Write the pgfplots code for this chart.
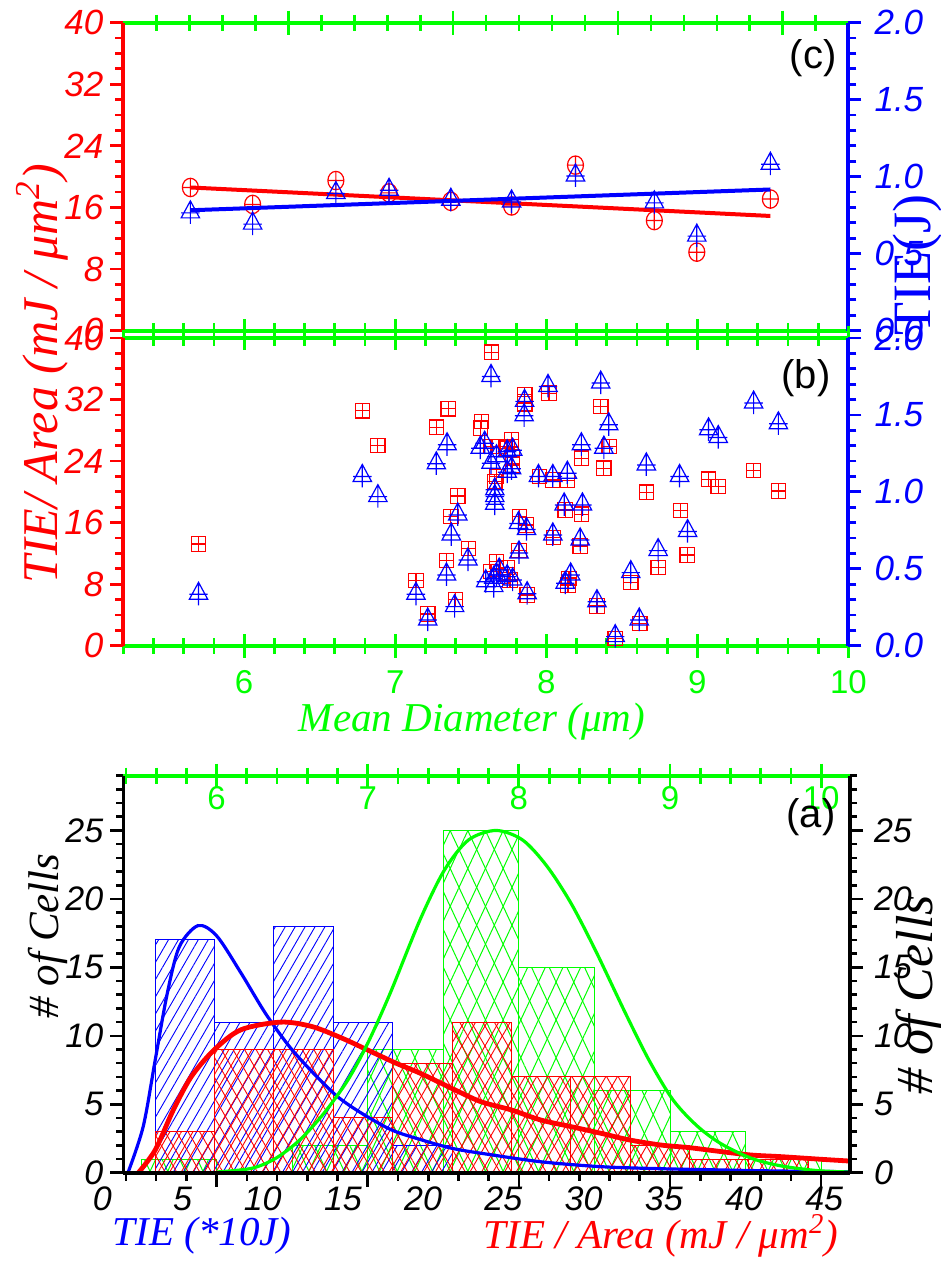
\documentclass[border=0pt]{standalone}
\usepackage{fontspec}
\setmainfont{Liberation Serif}
\newfontfamily\arial{Liberation Sans}
\usepackage{pgfplots}
\pgfplotsset{compat=1.18}
\usetikzlibrary{patterns.meta}

\definecolor{rd}{RGB}{255,0,0}
\definecolor{bl}{RGB}{0,0,255}
\definecolor{gr}{RGB}{0,255,0}

\newcommand\numfont{\arial\itshape\fontsize{17.5}{17.5}\selectfont}
\newcommand\numfontA{\arial\itshape\fontsize{17}{17}\selectfont}
\newcommand\upfont{\arial\fontsize{16.5}{16.5}\selectfont}
\newcommand\ttlfont{\itshape\fontsize{20.5}{21}\selectfont}

% square with a plus inside
\pgfdeclareplotmark{sqplus}{%
  \pgfpathrectangle{\pgfpoint{-3.6pt}{-3.6pt}}{\pgfpoint{7.2pt}{7.2pt}}%
  \pgfpathmoveto{\pgfpoint{-3.6pt}{0pt}}\pgfpathlineto{\pgfpoint{3.6pt}{0pt}}%
  \pgfpathmoveto{\pgfpoint{0pt}{-3.6pt}}\pgfpathlineto{\pgfpoint{0pt}{3.6pt}}%
  \pgfusepathqstroke}
% triangle with a plus through it
\pgfdeclareplotmark{triplus}{%
  \pgfpathmoveto{\pgfpoint{0pt}{6pt}}\pgfpathlineto{\pgfpoint{4.6pt}{-2.5pt}}%
  \pgfpathlineto{\pgfpoint{-4.6pt}{-2.5pt}}\pgfpathclose
  \pgfpathmoveto{\pgfpoint{-4.6pt}{0pt}}\pgfpathlineto{\pgfpoint{4.6pt}{0pt}}%
  \pgfpathmoveto{\pgfpoint{0pt}{6pt}}\pgfpathlineto{\pgfpoint{0pt}{-5.5pt}}%
  \pgfusepathqstroke}
% ellipse with a plus inside
\pgfdeclareplotmark{oplusE}{%
  \pgfpathellipse{\pgfpointorigin}{\pgfpoint{4pt}{0pt}}{\pgfpoint{0pt}{4.6pt}}%
  \pgfpathmoveto{\pgfpoint{-4pt}{0pt}}\pgfpathlineto{\pgfpoint{4pt}{0pt}}%
  \pgfpathmoveto{\pgfpoint{0pt}{-4.6pt}}\pgfpathlineto{\pgfpoint{0pt}{4.6pt}}%
  \pgfusepathqstroke}

\pgfplotsset{
  pan/.style={scale only axis, anchor=south west},
  pc/.style={pan, at={(61.65pt,467.65pt)}, width=362.6pt, height=154pt, xmin=5.2, xmax=10, clip=false},
  pb/.style={pan, at={(61.65pt,310.15pt)}, width=362.6pt, height=153.85pt, xmin=5.2, xmax=10, clip=false},
  pa/.style={pan, at={(61.65pt,46.65pt)}, width=363.35pt, height=198.5pt, xmin=5.3825, xmax=10.191, ymin=0, ymax=29},
  ptie/.style={pan, at={(51.15pt,46.65pt)}, width=373.85pt, height=198.5pt, xmin=0, xmax=46.61, ymin=0, ymax=29},
  redleft/.style={hide x axis, axis y line*=left, ymin=0, ymax=40,
    ytick={0,8,16,24,32,40}, yticklabels={0,8,16,24,32,40}, minor ytick={0,2,...,40},
    tick align=outside, major tick length=6.5pt, minor tick length=4pt,
    y axis line style={rd, line width=2pt}, ytick style={rd, line width=1.4pt},
    yticklabel style={rd, font=\numfont}},
  blueright/.style={hide x axis, axis y line*=right, ymin=0, ymax=2,
    ytick={0,0.5,1,1.5,2}, yticklabels={0.0,0.5,1.0,1.5,2.0}, minor ytick={0,0.1,...,2.0},
    tick align=outside, major tick length=6.5pt, minor tick length=4pt,
    y axis line style={bl, line width=2pt}, ytick style={bl, line width=1.4pt},
    yticklabel style={bl, font=\numfont, xshift=3pt}},
  greenx/.style={hide y axis, tick align=center, major tick length=12pt, minor tick length=8pt,
    x axis line style={gr, line width=2pt}, xtick style={gr, line width=1.4pt}},
  blackx/.style={tick align=outside, major tick length=6.5pt, minor tick length=3.5pt,
    axis line style={black, line width=1.8pt}, tick style={black, line width=1.3pt}},
}

\begin{document}
\begin{tikzpicture}
\useasboundingbox (0,0) rectangle (470.5pt,633pt);

% ---------------- panel (c): binned means with linear fits ----------------
\begin{axis}[pc, greenx, ymin=0, ymax=1, axis x line*=bottom,
  xtick={6,...,10}, xticklabels={}, minor xtick={5.2,5.4,...,10}]
\end{axis}
\begin{axis}[pc, greenx, ymin=0, ymax=1, axis x line*=top, xmin=5, xmax=9.398,
  xtick={6,...,9}, xticklabels={}, minor xtick={5.2,5.4,...,9.4}]
\end{axis}
\begin{axis}[pc, redleft]
  \addplot[rd, line width=2pt] coordinates {(5.644,18.6) (9.483,14.9)};
  \addplot[rd, only marks, mark=oplusE, mark options={line width=0.6pt}] coordinates {
    (5.644,18.6) (6.056,16.4) (6.607,19.5) (6.959,17.9) (7.368,16.8)
    (7.770,16.2) (8.193,21.5) (8.715,14.3) (8.996,10.2) (9.483,17.1)};
\end{axis}
\begin{axis}[pc, blueright]
  \addplot[bl, line width=2pt] coordinates {(5.644,0.782) (9.483,0.917)};
  \addplot[bl, only marks, mark=triplus, mark options={line width=0.6pt}] coordinates {
    (5.644,0.765) (6.056,0.692) (6.607,0.891) (6.959,0.912) (7.368,0.847)
    (7.770,0.836) (8.193,1.005) (8.715,0.830) (8.996,0.614) (9.483,1.081)};
\end{axis}

% ---------------- panel (b): individual cells ----------------
\begin{axis}[pb, greenx, ymin=0, ymax=1, axis x line*=bottom,
  xtick={6,...,10}, xticklabels={6,7,8,9,10}, minor xtick={5.2,5.4,...,10},
  xticklabel style={gr, font=\upfont, yshift=-3pt}]
\end{axis}
\begin{axis}[pb, greenx, ymin=0, ymax=1, axis x line*=top,
  xtick={6,...,10}, xticklabels={}, minor xtick={5.2,5.4,...,10}]
\end{axis}
\begin{axis}[pb, redleft]
  \addplot[rd, only marks, mark=sqplus, mark options={line width=0.6pt}] coordinates {
    (5.698,13.23) (6.782,30.53) (6.885,26.02) (7.137,8.46) (7.215,4.12)
    (7.272,28.40) (7.350,30.79) (7.339,11.06) (7.368,16.78) (7.414,19.47)
    (7.400,6.03) (7.485,12.66) (7.570,29.14) (7.563,28.27) (7.638,38.16)
    (7.634,25.89) (7.688,25.89) (7.770,26.76) (7.741,25.67) (7.777,24.59)
    (7.777,23.50) (7.670,21.99) (7.659,21.34) (7.858,32.61) (7.858,31.44)
    (7.823,16.78) (7.866,15.70) (7.819,12.36) (7.873,6.59) (7.670,10.93)
    (7.634,9.63) (7.698,8.98) (7.741,10.19) (7.759,8.54) (7.954,21.99)
    (8.018,32.83) (8.043,21.55) (8.047,14.05) (8.139,21.47) (8.143,7.89)
    (8.125,17.65) (8.232,24.37) (8.232,17.09) (8.224,12.97) (8.360,31.09)
    (8.381,23.07) (8.416,25.89) (8.335,5.16) (8.456,0.95) (8.559,8.24)
    (8.619,2.91) (8.662,19.95) (8.740,10.19) (8.889,17.56) (8.932,11.80)
    (9.074,21.64) (9.138,20.69) (9.372,22.77) (9.536,20.12) (8.150,8.76)};
\end{axis}
\begin{axis}[pb, blueright]
  \addplot[bl, only marks, mark=triplus, mark options={line width=0.6pt}] coordinates {
    (5.698,0.334) (6.782,1.100) (6.885,0.969) (7.137,0.334) (7.215,0.167)
    (7.272,1.182) (7.343,1.306) (7.339,0.460) (7.371,0.720) (7.414,0.850)
    (7.393,0.254) (7.481,0.557) (7.563,1.284) (7.592,1.316) (7.634,1.750)
    (7.634,1.186) (7.670,1.228) (7.659,1.013) (7.659,0.969) (7.659,0.920)
    (7.741,1.260) (7.777,1.271) (7.741,1.128) (7.770,1.150) (7.856,1.588)
    (7.853,1.494) (7.816,0.794) (7.869,0.755) (7.819,0.603) (7.873,0.338)
    (7.599,0.416) (7.652,0.438) (7.688,0.492) (7.741,0.449) (7.777,0.427)
    (7.652,0.384) (7.670,0.460) (7.948,1.100) (8.011,1.685) (8.043,1.100)
    (8.043,0.720) (8.139,1.121) (8.118,0.915) (8.161,0.460) (8.125,0.406)
    (8.232,1.306) (8.239,0.915) (8.224,0.687) (8.360,1.707) (8.413,1.436)
    (8.381,1.284) (8.335,0.286) (8.456,0.059) (8.559,0.475) (8.615,0.167)
    (8.662,1.175) (8.740,0.618) (8.882,1.100) (8.935,0.742) (9.074,1.403)
    (9.138,1.353) (9.372,1.577) (9.536,1.442)};
\end{axis}

% ---------------- panel (a): histograms ----------------
% diameter histogram, top green axis
\begin{axis}[pa, greenx, axis x line*=top,
  xtick={6,...,10}, xticklabels={6,7,8,9,10}, minor xtick={5.4,5.6,...,10.2},
  xticklabel style={gr, font=\upfont, anchor=north, yshift=-8pt}]
  \addplot[ybar interval, draw=gr, line width=0.5pt,
    pattern={Lines[angle=65,distance=8pt,line width=0.5pt]}, pattern color=gr] coordinates {
    (5.5,1) (6.0,0) (6.5,2) (7.0,9) (7.5,25) (8.0,15) (8.5,6) (9.0,3) (9.5,1) (10.0,0)};
  \addplot[ybar interval, draw=gr, line width=0.5pt,
    pattern={Lines[angle=-65,distance=8pt,line width=0.5pt]}, pattern color=gr] coordinates {
    (5.5,1) (6.0,0) (6.5,2) (7.0,9) (7.5,25) (8.0,15) (8.5,6) (9.0,3) (9.5,1) (10.0,0)};
\end{axis}
% TIE and TIE/Area histograms with their fitted curves
\begin{axis}[ptie, hide y axis, axis x line*=bottom, axis line style={draw=none},
  xtick={0,5,...,45}, xticklabels={0,5,10,15,20,25,30,35,40,45},
  major tick length=0pt, xtick style={draw=none},
  xticklabel style={font=\numfontA, anchor=north, yshift=-3.5pt}]
  \addplot[ybar interval, draw=bl, line width=0.5pt,
    pattern={Lines[angle=60,distance=4.3pt,line width=0.45pt]}, pattern color=bl] coordinates {
    (3.3,17) (7.0,11) (10.7,18) (14.4,11) (18.1,2) (21.8,0)};
  \addplot[ybar interval, draw=rd, line width=0.5pt,
    pattern={Lines[angle=60,distance=5pt,line width=0.45pt]}, pattern color=rd] coordinates {
    (3.3,3) (7.0,9) (10.7,9) (14.4,4) (18.1,8) (21.8,11) (25.5,7) (29.2,7) (32.9,2) (36.6,1) (40.3,1) (44.0,0)};
  \addplot[ybar interval, draw=rd, line width=0.5pt,
    pattern={Lines[angle=-60,distance=5pt,line width=0.45pt]}, pattern color=rd] coordinates {
    (3.3,3) (7.0,9) (10.7,9) (14.4,4) (18.1,8) (21.8,11) (25.5,7) (29.2,7) (32.9,2) (36.6,1) (40.3,1) (44.0,0)};
  \addplot[bl, line width=1.6pt, smooth] coordinates {
    (1.6,0) (2.55,3.37) (3.30,8.24) (4.05,13.1) (4.80,16.5) (5.97,18.05) (7.13,17.3)
    (8.64,14.6) (10.16,11.66) (11.66,9.22) (13.16,7.27) (14.66,5.56) (16.17,4.34)
    (18.04,3.12) (19.92,2.39) (21.80,1.78) (23.67,1.41) (27.33,0.80) (31.08,0.44)
    (34.83,0.29) (38.58,0.20) (42.34,0.12) (46.6,0.07)};
  \addplot[rd, line width=2.4pt, smooth] coordinates {
    (2.25,0) (3.30,1.66) (4.43,4.59) (5.55,7.02) (6.98,8.98) (8.64,10.44) (11.12,11.0)
    (13.06,10.68) (14.94,9.83) (16.51,8.98) (18.31,8.0) (19.81,7.27) (21.77,6.17)
    (23.57,5.2) (25.48,4.59) (27.33,3.85) (29.2,3.37) (31.08,2.88) (32.87,2.39)
    (34.83,2.02) (36.59,1.83) (38.58,1.54) (40.46,1.29) (42.34,1.17) (44.8,0.98) (46.6,0.85)};
\end{axis}
% diameter distribution curve
\begin{axis}[pa, hide x axis, hide y axis]
  \addplot[gr, line width=1.6pt, smooth] coordinates {
    (6.0,0.05) (6.232,0.32) (6.391,1.05) (6.550,2.39) (6.710,4.34) (6.869,6.78)
    (7.0,9.46) (7.148,13.1) (7.347,18.5) (7.507,22.1) (7.666,24.3) (7.849,25)
    (8.025,24.3) (8.185,22.4) (8.344,19.7) (8.504,16.3) (8.703,11.7) (8.862,8.2)
    (9.021,5.3) (9.181,3.4) (9.340,2.1) (9.539,1.05) (9.738,0.49) (9.977,0.15) (10.19,0.05)};
\end{axis}
% black frame of panel (a)
\begin{axis}[pa, blackx, hide x axis, axis y line*=left,
  ytick={0,5,...,25}, yticklabels={0,5,10,15,20,25}, minor ytick={0,1,...,29},
  yticklabel style={font=\numfontA}]
\end{axis}
\begin{axis}[pa, blackx, hide x axis, axis y line*=right,
  ytick={0,5,...,25}, yticklabels={0,5,10,15,20,25}, minor ytick={0,1,...,29},
  yticklabel style={font=\numfontA, xshift=2pt}]
\end{axis}
\begin{axis}[pa, blackx, hide y axis, axis x line*=bottom, major tick length=7pt, minor tick length=4pt,
  xtick={6,...,10}, xticklabels={}, minor xtick={5.4,5.6,...,10.2}]
\end{axis}

% ---------------- titles and panel tags ----------------
\node[rd, rotate=90, font=\itshape\fontsize{25}{25}\selectfont] at (21pt,446pt) {TIE/ Area (mJ / μm\textsuperscript{2})};
\node[gr, font=\ttlfont] at (236pt,272pt) {Mean Diameter (μm)};
\node[bl, rotate=90, font=\fontsize{27}{27}\selectfont] at (459pt,500.5pt) {TIE(J)};
\node[font=\arial\fontsize{20}{20}\selectfont] at (406.5pt,604pt) {(c)};
\node[font=\arial\fontsize{20}{20}\selectfont] at (403pt,444pt) {(b)};
\node[font=\arial\fontsize{20}{20}\selectfont] at (405.5pt,224.5pt) {(a)};
\node[rotate=90, font=\itshape\fontsize{21.5}{21.5}\selectfont] at (24pt,165pt) {\# of Cells};
\node[rotate=90, font=\itshape\fontsize{26}{26}\selectfont] at (460pt,135.5pt) {\# of Cells};
\node[bl, font=\ttlfont] at (101pt,15pt) {TIE (*10J)};
\node[rd, font=\ttlfont] at (330.5pt,15pt) {TIE / Area (mJ / μm\textsuperscript{2})};
\end{tikzpicture}
\end{document}
